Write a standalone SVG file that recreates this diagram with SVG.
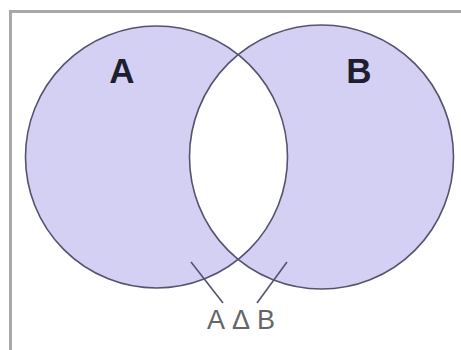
<svg xmlns="http://www.w3.org/2000/svg" width="461" height="350" viewBox="0 0 461 350">
<style>
.set{fill:#d4d0f4;stroke:none}
.edge{fill:none;stroke:#55536e;stroke-width:1.6}
.lbl{font-family:"Liberation Sans",Arial,sans-serif;font-weight:bold;font-size:35px;fill:#1e1e30;text-anchor:middle}
.cap{font-family:"Liberation Sans",Arial,sans-serif;font-size:27px;fill:#666;text-anchor:middle}
.lead{stroke:#55536e;stroke-width:1.6;fill:none}
</style>
<defs>
<clipPath id="clipA"><circle cx="156.5" cy="157" r="131"/></clipPath>
</defs>
<rect x="0" y="0" width="461" height="350" fill="#ffffff"/>
<path d="M10.5 350 V11.5 H461" fill="none" stroke="#a8a8a8" stroke-width="3"/>
<g id="setA">
<circle class="set" cx="156.5" cy="157" r="131"/>
</g>
<g id="setB">
<circle class="set" cx="321.5" cy="157" r="132"/>
</g>
<g id="intersection">
<circle cx="321.5" cy="157" r="132" fill="#ffffff" clip-path="url(#clipA)"/>
</g>
<g id="outlines">
<circle class="edge" cx="156.5" cy="157" r="131"/>
<circle class="edge" cx="321.5" cy="157" r="132"/>
</g>
<g id="labelA"><text class="lbl" x="122" y="83">A</text></g>
<g id="labelB"><text class="lbl" x="359" y="83">B</text></g>
<g id="connectors">
<line class="lead" x1="191" y1="262" x2="223" y2="303"/>
<line class="lead" x1="287" y1="262" x2="257" y2="303"/>
</g>
<g id="caption"><text class="cap" y="329"><tspan x="216">A</tspan><tspan x="241">Δ</tspan><tspan x="266">B</tspan></text></g>
</svg>
